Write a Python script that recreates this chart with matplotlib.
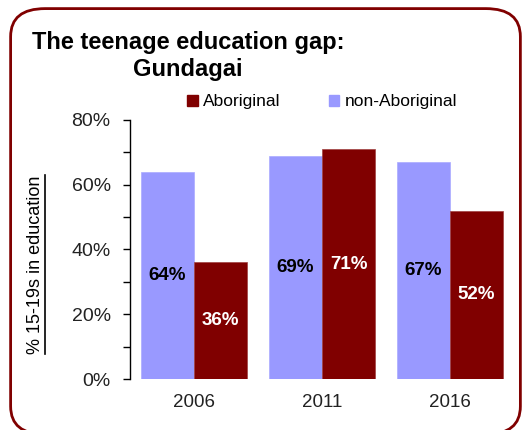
import matplotlib.pyplot as plt
import numpy as np
from matplotlib.patches import FancyBboxPatch, Patch
from matplotlib.lines import Line2D
from matplotlib.ticker import MultipleLocator, PercentFormatter

plt.rcParams['font.family'] = ['Liberation Sans', 'DejaVu Sans']

years = ['2006', '2011', '2016']
non_aboriginal = [64, 69, 67]
aboriginal = [36, 71, 52]

DARK_RED = '#800000'
LILAC = '#9999FF'

fig = plt.figure(figsize=(5.31, 4.30), dpi=100)
ax = fig.add_axes([0.245, 0.1186, 0.723, 0.6024])

x = np.arange(len(years))
w = 0.415
b1 = ax.bar(x - w / 2, non_aboriginal, width=w, color=LILAC, edgecolor='#aaaaff', linewidth=0.5)
b2 = ax.bar(x + w / 2, aboriginal, width=w, color=DARK_RED, edgecolor='#a04040', linewidth=0.5)

# value labels sit in the middle of each bar
for bar, v in zip(b1, non_aboriginal):
    ax.text(bar.get_x() + bar.get_width() / 2, v / 2, f'{v}%', ha='center', va='center',
            fontsize=13.5, fontweight='bold', color='black')
for bar, v in zip(b2, aboriginal):
    ax.text(bar.get_x() + bar.get_width() / 2, v / 2, f'{v}%', ha='center', va='center',
            fontsize=13.5, fontweight='bold', color='white')

ax.set_xlim(-0.5, 2.5)
ax.set_ylim(0, 80)
ax.set_xticks(x)
ax.set_xticklabels(years, fontsize=13.5, color='#222222')
ax.yaxis.set_major_locator(MultipleLocator(20))
ax.yaxis.set_minor_locator(MultipleLocator(10))
ax.yaxis.set_major_formatter(PercentFormatter(decimals=0))
ax.tick_params(axis='y', which='both', direction='out', length=5, width=1, labelsize=14, pad=9,
               labelcolor='#222222')
ax.tick_params(axis='x', length=0, pad=11)
for s in ['top', 'right', 'bottom']:
    ax.spines[s].set_visible(False)
ax.spines['left'].set_linewidth(1)

# y label, underlined
ylab = fig.text(0.066, 0.385, '% 15-19s in education', rotation=90, ha='center', va='center', fontsize=13)
fig.canvas.draw()
bb = ylab.get_window_extent(fig.canvas.get_renderer()).transformed(fig.transFigure.inverted())
fig.add_artist(Line2D([bb.x1 + 0.002, bb.x1 + 0.002], [bb.y0, bb.y1], color='black', lw=1.2,
                      transform=fig.transFigure))

# title
fig.text(0.354, 0.87, 'The teenage education gap:\nGundagai', ha='center', va='center',
         fontsize=17, fontweight='bold', linespacing=1.2)

# legend
handles = [Patch(color=DARK_RED, label='Aboriginal'), Patch(color=LILAC, label='non-Aboriginal')]
fig.legend(handles=handles, ncol=2, loc='center left', bbox_to_anchor=(0.323, 0.763),
           frameon=False, fontsize=12.5,
           handlelength=0.6, handleheight=0.6, handletextpad=0.3, columnspacing=2.8)

# rounded border
border = FancyBboxPatch((0.02, -0.01), 0.96, 0.99, boxstyle='round,pad=0,rounding_size=0.065',
                        transform=fig.transFigure, facecolor='none', edgecolor=DARK_RED, linewidth=2)
fig.add_artist(border)

fig.savefig('out.png', dpi=100)
